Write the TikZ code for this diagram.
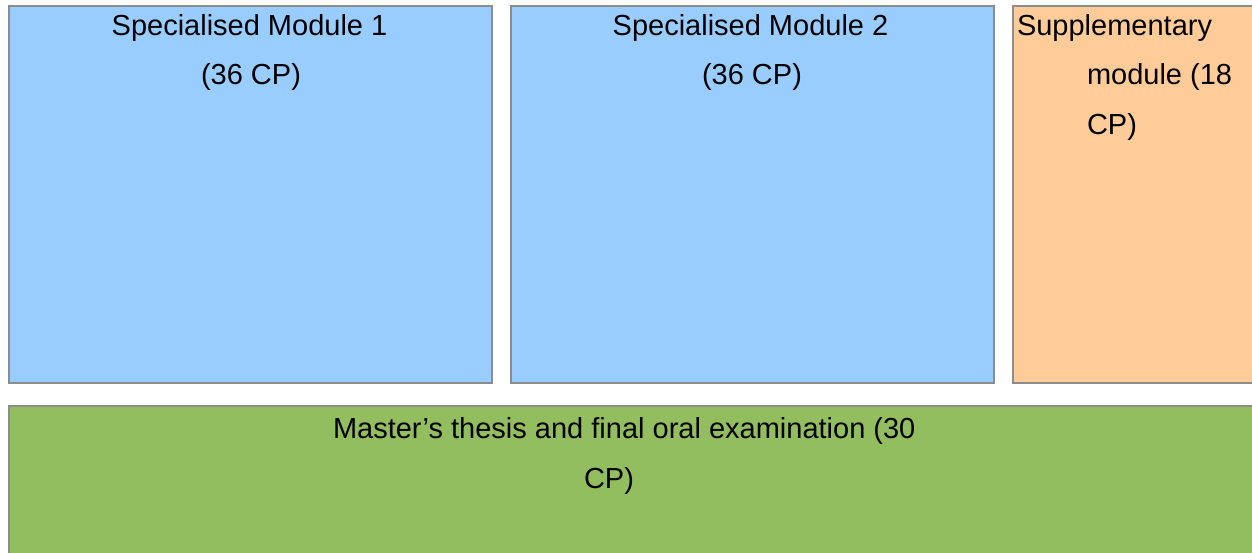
\documentclass[tikz,border=0pt]{standalone}
\usepackage{fontspec}
\setmainfont{Liberation Sans}
\definecolor{modblue}{HTML}{99CCFF}
\definecolor{suporange}{HTML}{FFCC99}
\definecolor{thesisgreen}{HTML}{93BE5F}
\definecolor{bordergray}{HTML}{8C8C8C}
\tikzset{
  modbox/.style={draw=bordergray, line width=2pt, inner sep=0pt, outer sep=0pt, rectangle},
  lbl/.style={inner sep=0pt, outer sep=0pt, font=\fontsize{29}{50}\selectfont, anchor=base, text=black},
}
\begin{document}
\begin{tikzpicture}[x=1pt,y=-1pt]
\useasboundingbox (0,0) rectangle (1252,553);
\clip (0,0) rectangle (1252,553);
% boxes
\node[modbox, fill=modblue, minimum width=483pt, minimum height=377pt, anchor=north west] (m1) at (9,6) {};
\node[modbox, fill=modblue, minimum width=483pt, minimum height=377pt, anchor=north west] (m2) at (511,6) {};
\node[modbox, fill=suporange, minimum width=260pt, minimum height=377pt, anchor=north west] (sup) at (1013,6) {};
\node[modbox, fill=thesisgreen, minimum width=1262pt, minimum height=170pt, anchor=north west] (th) at (9,406) {};
% texts
\node[lbl] (m1a) at (249.5,35.5) {Specialised Module 1};
\node[lbl] (m1b) at (251,85) {(36 CP)};
\node[lbl] (m2a) at (750.5,35.5) {Specialised Module 2};
\node[lbl] (m2b) at (752,85) {(36 CP)};
\node[lbl, anchor=base west] (supa) at (1017,35.5) {Supplementary};
\node[lbl, anchor=base west] (supb) at (1087,85) {module (18};
\node[lbl, anchor=base west] (supc) at (1087,134.5) {CP)};
\node[lbl, anchor=base west] (tha) at (333,438.5) {Master’s thesis and final oral examination (30};
\node[lbl, anchor=base west] (thb) at (584,488) {CP)};
\end{tikzpicture}
\end{document}
